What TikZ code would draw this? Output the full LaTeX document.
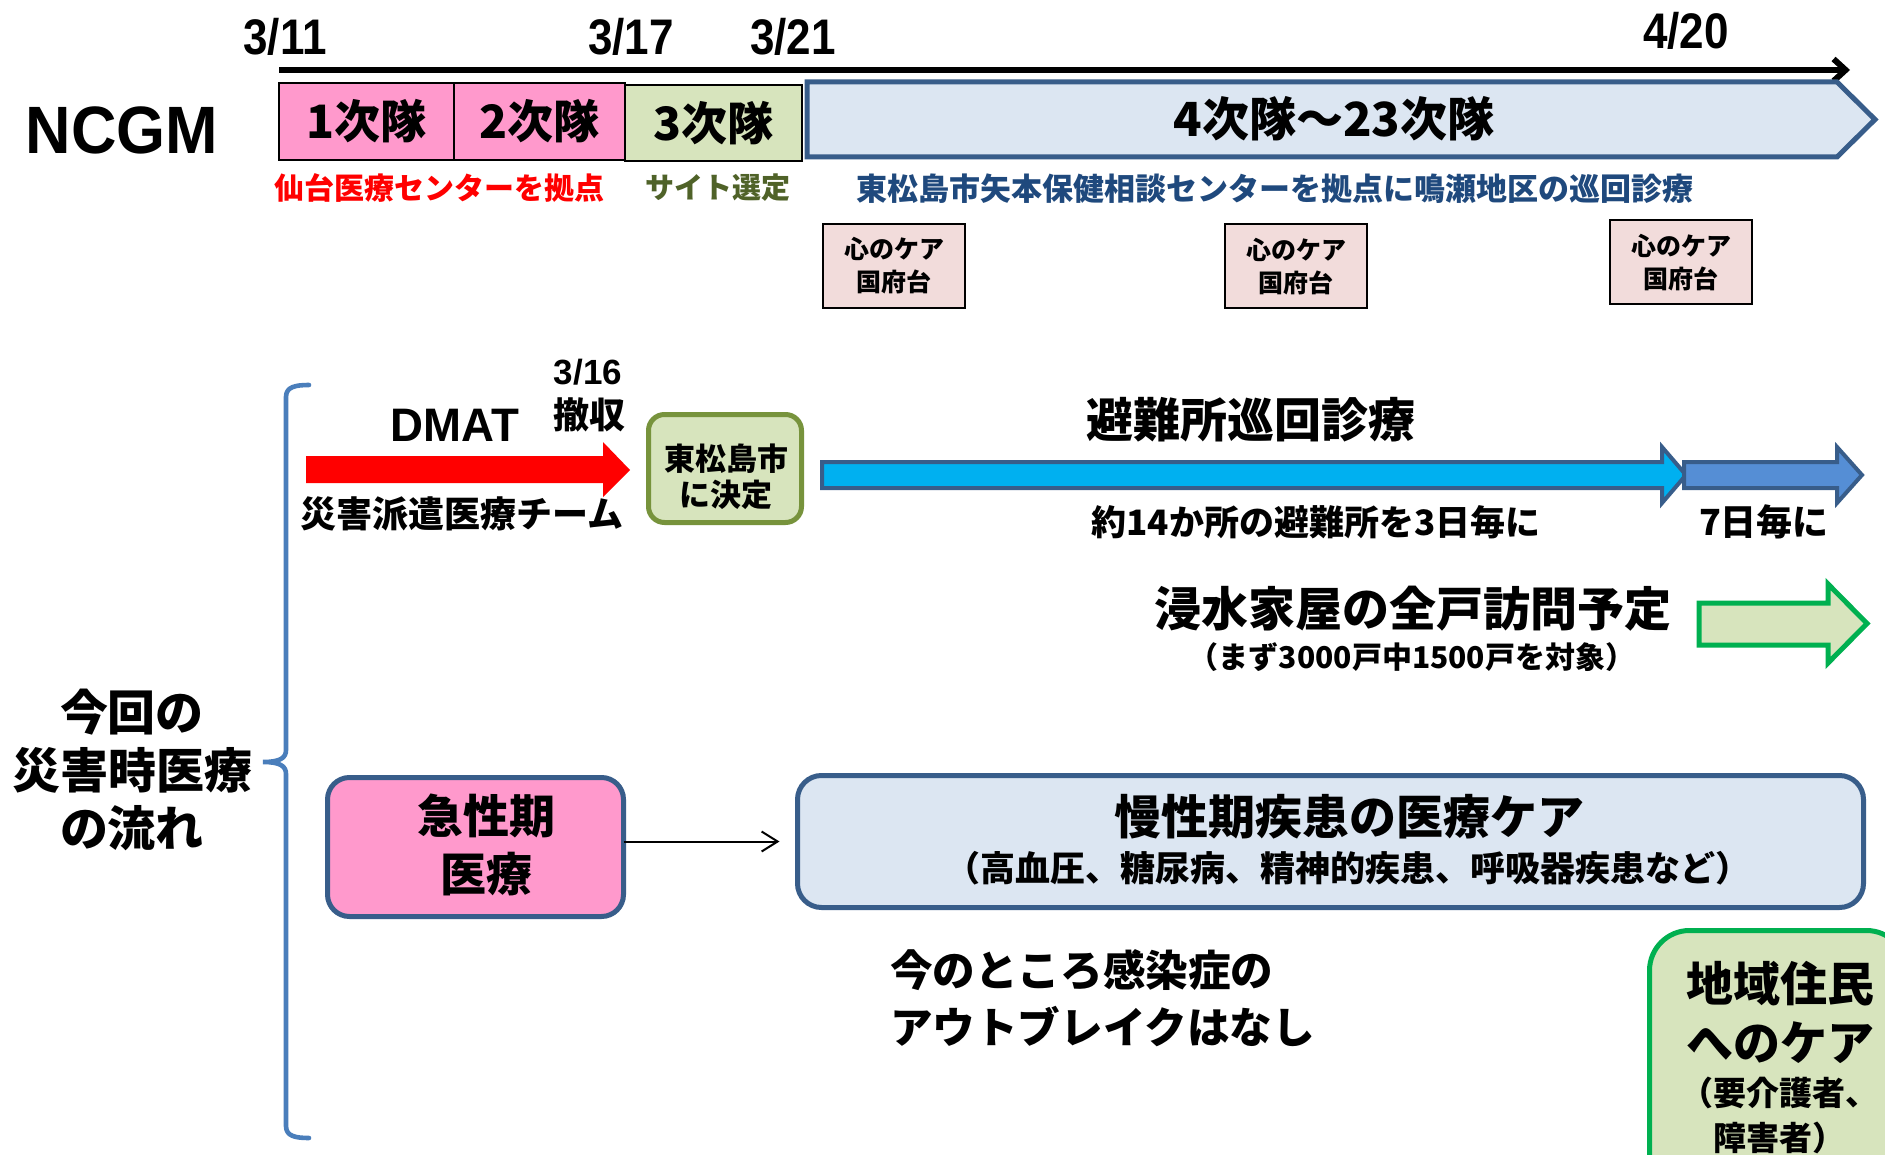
\documentclass[tikz,border=0pt]{standalone}
\usepackage{fontspec}
\usepackage{graphicx}
\setmainfont{Noto Sans CJK JP}
\newfontfamily\latinb{Liberation Sans}
\usetikzlibrary{arrows.meta}
\definecolor{pinkf}{HTML}{FF99CC}
\definecolor{greenf}{HTML}{D7E4BD}
\definecolor{bluef}{HTML}{DCE6F2}
\definecolor{bdblue}{HTML}{385D8A}
\definecolor{braceblue}{HTML}{4A7EBB}
\definecolor{caref}{HTML}{F2DCDB}
\definecolor{redt}{HTML}{FF0000}
\definecolor{olivet}{HTML}{4F6228}
\definecolor{bluet}{HTML}{1F497D}
\definecolor{cyanf}{HTML}{00B0F0}
\definecolor{steelf}{HTML}{558ED5}
\definecolor{greenb}{HTML}{00B050}
\definecolor{oliveb}{HTML}{77933C}
\newcommand\jfs[2]{\fontsize{#1pt}{#2pt}\selectfont}
\newcommand\narrowtxt[2]{\scalebox{#1}[1]{#2}}
\begin{document}
\begin{tikzpicture}[x=0.5pt,y=-0.5pt,
  every node/.style={inner sep=0pt, outer sep=0pt},
  datelbl/.style={font=\latinb\bfseries\jfs{25}{30}},
  teambox/.style={draw=black, line width=1pt, minimum height=38.5pt, font=\bfseries\jfs{23}{23}},
  sublbl/.style={font=\bfseries\jfs{15}{16}},
  carebox/.style={draw=black, line width=1pt, fill=caref, minimum width=71pt, minimum height=42pt, align=center, font=\bfseries\jfs{12.5}{16.5}},
  bigtxt/.style={font=\bfseries\jfs{23.5}{24}},
  midtxt/.style={font=\bfseries\jfs{17.5}{18}},
  roundbox/.style={line width=2.5pt},
  blockarrow/.style={line width=2pt, line join=miter},
]
\useasboundingbox (0,0) rectangle (1885,1155);
\fill[white] (0,0) rectangle (1885,1155);

% ---------- timeline ----------
\node[datelbl] (d311) at (285,37) {\narrowtxt{0.88}{3/11}};
\node[datelbl] (d317) at (631,37) {\narrowtxt{0.88}{3/17}};
\node[datelbl] (d321) at (793,37) {\narrowtxt{0.88}{3/21}};
\node[datelbl] (d420) at (1686,31) {\narrowtxt{0.88}{4/20}};
\coordinate (tlA) at (279,70);
\coordinate (tlB) at (1850,70);
\draw[line width=3pt, -{Straight Barb[length=6pt,width=11pt]}] (tlA) -- (tlB);

\node[font=\latinb\bfseries\jfs{33.5}{34}] (ncgm) at (122,130) {\narrowtxt{0.94}{NCGM}};

\node[teambox, fill=pinkf, minimum width=87.5pt] (tm1) at (366.5,121.5) {1次隊};
\node[teambox, fill=pinkf, minimum width=85.5pt] (tm2) at (539.5,121.5) {2次隊};
\node[teambox, fill=greenf, minimum width=88.5pt, minimum height=38pt] (tm3) at (713.5,123) {3次隊};

\coordinate (p1) at (807,82);
\coordinate (p2) at (1837,82);
\coordinate (p3) at (1875,119.5);
\coordinate (p4) at (1837,157);
\coordinate (p5) at (807,157);
\draw[fill=bluef, draw=bdblue, line width=2.5pt, line join=miter] (p1) -- (p2) -- (p3) -- (p4) -- (p5) -- cycle;
\node[font=\bfseries\jfs{23.5}{24}] (tm4) at (1334,119) {4次隊～23次隊};

\node[sublbl, text=redt] (lbl1) at (439,188) {仙台医療センターを拠点};
\node[sublbl, text=olivet, font=\bfseries\jfs{14.5}{15}] (lbl3) at (718,188) {サイト選定};
\node[sublbl, text=bluet, font=\bfseries\jfs{15.5}{16}] (lbl4) at (1275,189) {東松島市矢本保健相談センターを拠点に鳴瀬地区の巡回診療};

\node[carebox] (care1) at (894,266) {心のケア\\国府台};
\node[carebox] (care2) at (1296,266.5) {心のケア\\国府台};
\node[carebox] (care3) at (1681,262.5) {心のケア\\国府台};

% ---------- brace and left title ----------
\draw[braceblue, line width=2.3pt, line cap=round]
  (309,385) .. controls (295,385) and (286,387) .. (286,397)
  -- (286,750) .. controls (286,758) and (280,762) .. (263,762)
  .. controls (280,762) and (286,766) .. (286,774)
  -- (286,1126) .. controls (286,1136) and (295,1138) .. (309,1138);
\node[font=\bfseries\jfs{24}{29}, align=center] (flow) at (132,770) {今回の\\災害時医療\\の流れ};

% ---------- DMAT ----------
\node[font=\latinb\bfseries\jfs{23.5}{24}] (dmat) at (455,425) {\narrowtxt{0.97}{DMAT}};
\node[font=\latinb\bfseries\jfs{17.5}{18}] (d316) at (588,372) {3/16};
\node[font=\bfseries\jfs{18}{18}] (tesshu) at (589,415) {撤収};
\fill[red] (306,456) -- (603,456) -- (603,442) -- (630,470) -- (603,497) -- (603,483) -- (306,483) -- cycle;
\node[font=\bfseries\jfs{18}{18}] (dmatjp) at (462,514) {災害派遣医療チーム};

\node[roundbox, draw=oliveb, fill=greenf, rounded corners=8pt, minimum width=76.5pt, minimum height=54pt] (decide) at (725,468.5) {};
\node[font=\bfseries\jfs{15.5}{18}, align=center] (decideT) at (726,477) {東松島市\\に決定};

% ---------- shelter rounds ----------
\node[bigtxt] (shelterT) at (1251,420) {避難所巡回診療};
\draw[blockarrow, fill=cyanf, draw=bdblue] (822,462) -- (1662,462) -- (1662,447) -- (1686,475) -- (1662,503) -- (1662,488) -- (822,488) -- cycle;
\draw[blockarrow, fill=steelf, draw=bdblue] (1684,462) -- (1837,462) -- (1837,447) -- (1862,475) -- (1837,503) -- (1837,488) -- (1684,488) -- cycle;
\node[midtxt] (every3) at (1316,522) {約14か所の避難所を3日毎に};
\node[midtxt, font=\bfseries\jfs{18}{18}] (every7) at (1764,522) {7日毎に};

\node[bigtxt] (floodT) at (1413,609) {浸水家屋の全戸訪問予定};
\node[font=\bfseries\jfs{15}{15}] (floodS) at (1412,657) {（まず3000戸中1500戸を対象）};
\draw[line width=2.5pt, line join=miter, fill=greenf, draw=greenb] (1699,603) -- (1828,603) -- (1828,584) -- (1867,623.5) -- (1828,663) -- (1828,645) -- (1699,645) -- cycle;

% ---------- acute / chronic ----------
\node[roundbox, draw=bdblue, fill=pinkf, rounded corners=11pt, minimum width=148pt, minimum height=69.5pt] (acute) at (475.5,847) {};
\node[font=\bfseries\jfs{23}{29}, align=center] (acuteT) at (486,845) {急性期\\医療};

\node[roundbox, draw=bdblue, fill=bluef, rounded corners=12pt, minimum width=533pt, minimum height=66pt] (chronic) at (1330.5,841.5) {};
\node[bigtxt] (chronicT) at (1349,817) {慢性期疾患の医療ケア};
\node[midtxt] (chronicS) at (1348,868) {（高血圧、糖尿病、精神的疾患、呼吸器疾患など）};

\draw[line width=1pt, -{Straight Barb[length=8pt,width=10pt]}] (acute.east |- chronic.west) -- ([xshift=-9pt]chronic.west);

\node[anchor=west, align=left, font=\bfseries\jfs{21.3}{28.5}] (outbreak) at (890,998) {今のところ感染症の\\アウトブレイクはなし};

% ---------- community care ----------
\begin{scope}
\clip (0,0) rectangle (1885,1155);
\node[roundbox, draw=greenb, fill=greenf, rounded corners=20pt, minimum width=128.5pt, minimum height=133.5pt] (community) at (1778,1064) {};
\end{scope}
\node[font=\bfseries\jfs{23.5}{29.5}, align=center] (communityT) at (1780,1012.5) {地域住民\\へのケア};
\node[font=\bfseries\jfs{16.5}{22.5}, align=center] (communityS) at (1779,1115.5) {（要介護者、\\障害者）};
\end{tikzpicture}
\end{document}
